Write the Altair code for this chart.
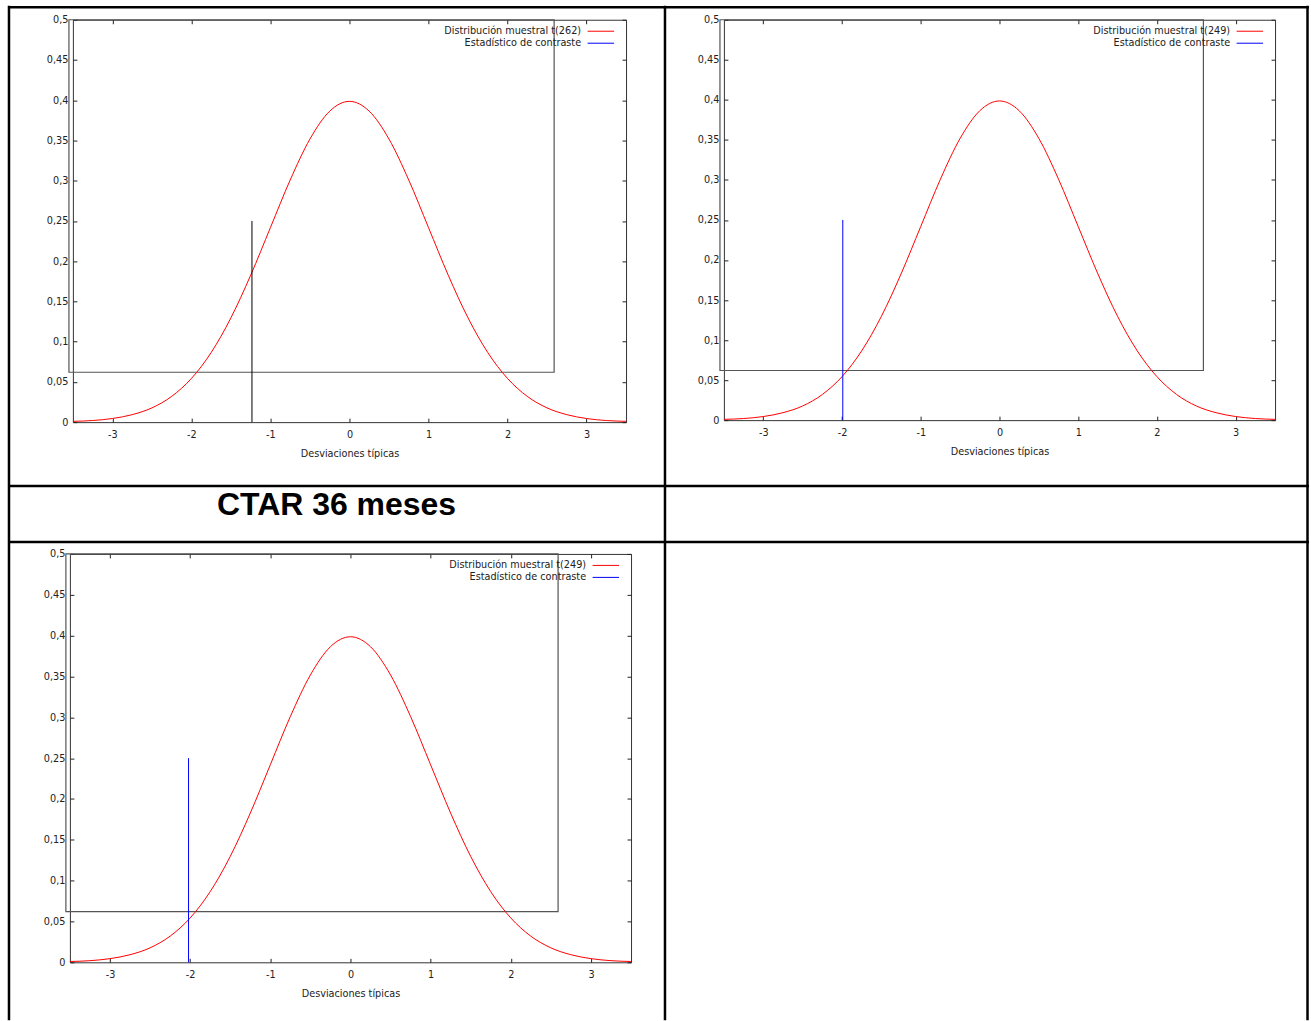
import altair as alt
import pandas as pd

# ---- data ----
curve_x = [-3.5, -3.25, -3.0, -2.75, -2.5, -2.25, -2.0, -1.75, -1.5, -1.25, -1.0, -0.75, -0.5, -0.25,
           0.0, 0.25, 0.5, 0.75, 1.0, 1.25, 1.5, 1.75, 2.0, 2.25, 2.5, 2.75, 3.0, 3.25, 3.5]
curve_y = [0.001, 0.002, 0.0045, 0.0093, 0.0177, 0.032, 0.0543, 0.0865, 0.1296, 0.1826, 0.2418, 0.3009,
           0.3518, 0.3864, 0.3986, 0.3864, 0.3518, 0.3009, 0.2418, 0.1826, 0.1296, 0.0865, 0.0543, 0.032,
           0.0177, 0.0093, 0.0045, 0.002, 0.001]

x_ticks = [-3, -2, -1, 0, 1, 2, 3]
y_ticks = [0, 0.05, 0.1, 0.15, 0.2, 0.25, 0.3, 0.35, 0.4, 0.45, 0.5]

dist_labels = ["Distribución muestral t(262)", "Distribución muestral t(249)", "Distribución muestral t(249)"]
stat_label = "Estadístico de contraste"
stat_values = [-1.234, -1.99, -2.02]
stat_top = 0.25
stat_colors = ["#000000", "#0000ff", "#0000ff"]
box_x = [-3.55, 2.59]
box_y = [0.062, 0.5]
x_title = "Desviaciones típicas"
table_title = "CTAR 36 meses"

FONT = "DejaVu Sans"
curve_df = pd.DataFrame({"x": curve_x, "y": curve_y})
one = pd.DataFrame({"v": [0]})


def hrule(x1, x2, y, color="black", sw=2.5):
    return alt.Chart(one).mark_rule(color=color, strokeWidth=sw).encode(
        x=alt.value(x1), x2=alt.value(x2), y=alt.value(y))


def vrule(x, y1, y2, color="black", sw=2.5):
    return alt.Chart(one).mark_rule(color=color, strokeWidth=sw).encode(
        x=alt.value(x), y=alt.value(y1), y2=alt.value(y2))


def panel(i, w, h, extras=()):
    xs = alt.Scale(domain=[-3.5, 3.5], nice=False, zero=False)
    ys = alt.Scale(domain=[0, 0.5], nice=False, zero=False)
    ax_b = alt.Axis(orient="bottom", values=x_ticks, labelExpr="toString(datum.value)", offset=-4,
                    tickSize=4, domain=False, grid=False, labelPadding=7.5, title=x_title, titlePadding=9)
    ax_l = alt.Axis(orient="left", values=y_ticks, labelExpr="replace(toString(datum.value), '.', ',')",
                    offset=-4, tickSize=4, domain=False, grid=False, labelPadding=5, title=None)
    ax_t = alt.Axis(orient="top", values=x_ticks, labels=False, offset=-4, tickSize=4, domain=False,
                    grid=False, title=None)
    ax_r = alt.Axis(orient="right", values=y_ticks, labels=False, offset=-4, tickSize=4, domain=False,
                    grid=False, title=None)
    base = alt.Chart(curve_df)
    box = alt.Chart(pd.DataFrame({"x0": [box_x[0]], "x1": [box_x[1]], "y0": [box_y[0]], "y1": [box_y[1]]})).mark_rect(
        fillOpacity=0, stroke="#555555", strokeWidth=1.2).encode(
        x=alt.X("x0:Q", scale=xs, axis=None), x2="x1:Q",
        y=alt.Y("y0:Q", scale=ys, axis=None), y2="y1:Q")
    curve = base.mark_line(color="#ff0000", strokeWidth=1, interpolate="monotone").encode(
        x=alt.X("x:Q", scale=xs, axis=ax_b), y=alt.Y("y:Q", scale=ys, axis=ax_l))
    mirror = base.mark_line(opacity=0).encode(
        x=alt.X("x:Q", scale=xs, axis=ax_t), y=alt.Y("y:Q", scale=ys, axis=ax_r))
    stat = alt.Chart(pd.DataFrame({"x": [stat_values[i]], "y0": [0], "y1": [stat_top]})).mark_rule(
        color=stat_colors[i], strokeWidth=1).encode(
        x=alt.X("x:Q", scale=xs, axis=None), y=alt.Y("y0:Q", scale=ys, axis=None), y2="y1:Q")
    leg1 = alt.Chart(pd.DataFrame({"t": [dist_labels[i]]})).mark_text(
        align="right", baseline="middle", font=FONT, fontSize=9.7, color="#222222").encode(
        x=alt.value(w - 45), y=alt.value(11.5), text="t:N")
    leg2 = alt.Chart(pd.DataFrame({"t": [stat_label]})).mark_text(
        align="right", baseline="middle", font=FONT, fontSize=9.7, color="#222222").encode(
        x=alt.value(w - 45), y=alt.value(23.5), text="t:N")
    s1 = hrule(w - 38.5, w - 12, 11.5, color="#ff0000", sw=1)
    s2 = hrule(w - 38.5, w - 12, 23.5, color="#0000ff", sw=1)
    layers = [box, curve, mirror, stat, leg1, leg2, s1, s2] + list(extras)
    return alt.layer(*layers).resolve_axis(x="independent", y="independent").properties(width=w, height=h)


# page furniture, positioned relative to the first panel's plot origin (72, 18)
frame = alt.Chart(one).mark_rect(opacity=0).encode(
    x=alt.value(-72), x2=alt.value(1239), y=alt.value(-18), y2=alt.value(1002))
title = alt.Chart(pd.DataFrame({"t": [table_title]})).mark_text(
    font="Liberation Sans", fontSize=32, fontWeight="bold", align="center", baseline="alphabetic",
    color="black").encode(x=alt.value(264), y=alt.value(496), text="t:N")
table = [
    hrule(-65, 1238, -12.5),
    hrule(-65, 1238, 467),
    hrule(-65, 1238, 523),
    vrule(-64, -14, 1002),
    vrule(593, -14, 1002),
    vrule(1236.5, -14, 1002),
]

p1 = panel(0, 554, 403, extras=[frame, title] + table)
p2 = panel(1, 552, 401)
p3 = panel(2, 562, 409)

spacer = alt.Chart(one).mark_point(opacity=0).encode(x=alt.value(0), y=alt.value(0)).properties(
    width=3, height=10, view=alt.ViewBackground(strokeOpacity=0))

row1 = alt.hconcat(spacer, alt.hconcat(p1, p2, spacing=98, bounds="flush"), spacing=0, bounds="flush")

# nested flush row counts as ~1px tall in the outer column, so the gap carries the row height
chart = alt.vconcat(row1, p3, spacing=535, bounds="flush").properties(
    padding=0, background="white"
).configure_axis(
    labelFont=FONT, labelFontSize=9.7, labelColor="#222222",
    titleFont=FONT, titleFontSize=9.7, titleFontWeight="normal", titleColor="#222222",
    tickColor="#222222", tickWidth=1
).configure_view(stroke="#333333", strokeWidth=1)

chart.save("out.html", embed_options={"renderer": "svg", "actions": False})
